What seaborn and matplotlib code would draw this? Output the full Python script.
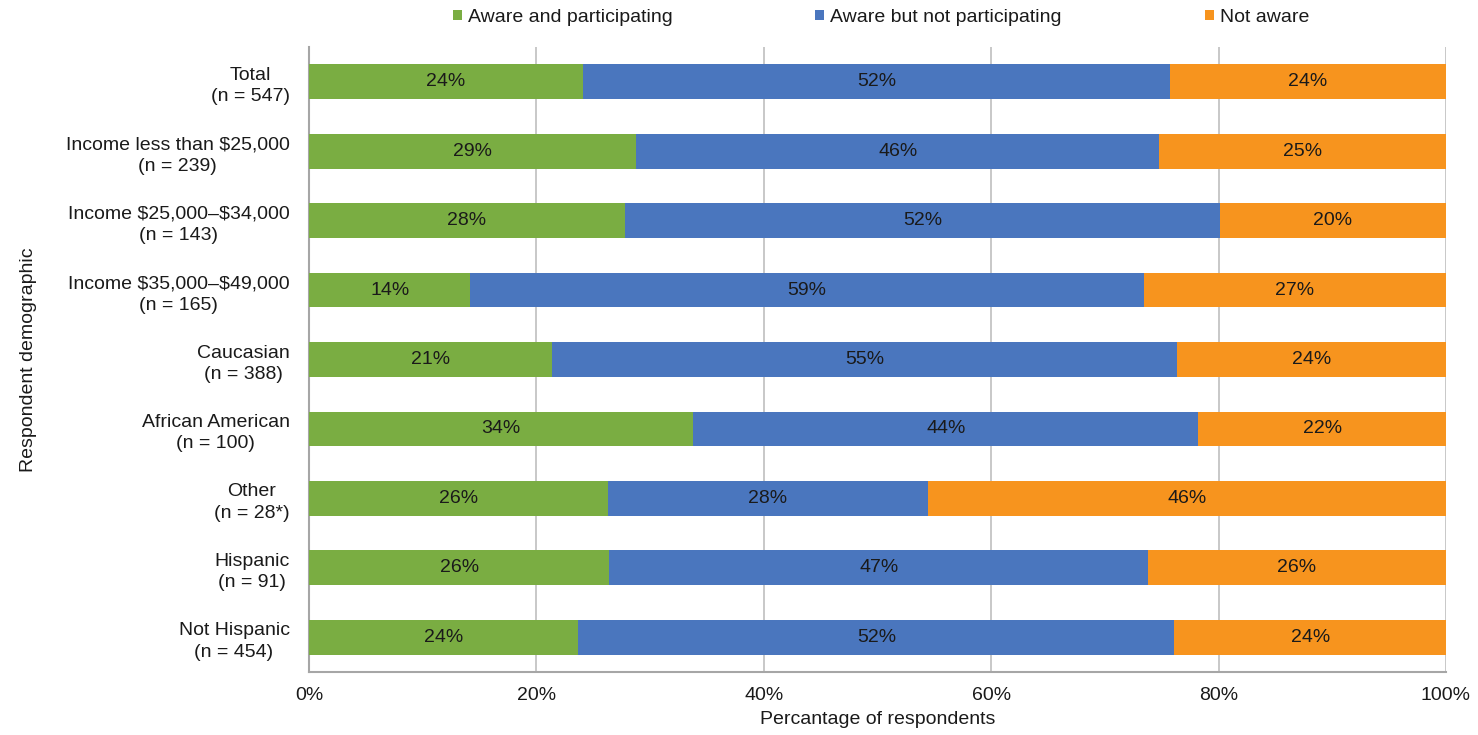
import matplotlib
matplotlib.use("Agg")
import matplotlib.pyplot as plt
import seaborn as sns
import numpy as np
import pandas as pd
from matplotlib.patches import Patch

categories = ["Total\n(n = 547)", "Income less than \\$25,000\n(n = 239)",
              "Income \\$25,000\u2013\\$34,000\n(n = 143)", "Income \\$35,000\u2013\\$49,000\n(n = 165)",
              "Caucasian\n(n = 388)", "African American\n(n = 100)", "Other\n(n = 28*)",
              "Hispanic\n(n = 91)", "Not Hispanic\n(n = 454)"]
series_names = ["Aware and participating", "Aware but not participating", "Not aware"]
aware_participating = [24.1, 28.8, 27.8, 14.2, 21.4, 33.8, 26.3, 26.4, 23.7]
aware_not_participating = [51.6, 46.0, 52.3, 59.2, 54.9, 44.4, 28.1, 47.4, 52.4]
not_aware = [24.3, 25.2, 19.9, 26.6, 23.7, 21.8, 45.6, 26.2, 23.9]
xticks = [0, 20, 40, 60, 80, 100]
xtick_labels = ["0%", "20%", "40%", "60%", "80%", "100%"]

colors = ["#7AAD42", "#4A76BE", "#F7941E"]
FS = 14
TXT = "#1a1a1a"

sns.set_theme(style="white")
plt.rcParams['font.family'] = ['Liberation Sans', 'DejaVu Sans']
plt.rcParams['text.color'] = TXT
plt.rcParams['axes.labelcolor'] = TXT
plt.rcParams['xtick.color'] = TXT
plt.rcParams['ytick.color'] = TXT

df = pd.DataFrame({"cat": categories,
                   "s1": aware_participating,
                   "s2": aware_not_participating,
                   "s3": not_aware})
df["c1"] = df["s1"]
df["c2"] = df["s1"] + df["s2"]
df["c3"] = df["c2"] + df["s3"]

fig = plt.figure(figsize=(14.78, 7.35), dpi=100)
ax = fig.add_axes([309/1478, 1 - 672/735, (1446-309)/1478, (672-47)/735])

for col, c in zip(["c3", "c2", "c1"], colors[::-1]):
    sns.barplot(data=df, y="cat", x=col, orient="h", color=c, width=0.5,
                saturation=1, ax=ax, linewidth=0, zorder=3)

for i, row in df.iterrows():
    lefts = [0, row["c1"], row["c2"]]
    vals = [row["s1"], row["s2"], row["s3"]]
    for l, v in zip(lefts, vals):
        ax.text(l + v/2, i, f"{v:.0f}%", ha="center", va="center",
                fontsize=FS, color=TXT, zorder=5)

ax.set_xlim(0, 100)
ax.set_ylim(len(categories) - 0.5, -0.5)
ax.set_xticks(xticks)
ax.set_xticklabels(xtick_labels, fontsize=FS)
ax.tick_params(axis="y", labelsize=FS, length=0, pad=14)
ax.tick_params(axis="x", length=0, pad=11)
for lab in ax.get_yticklabels():
    lab.set_horizontalalignment("right")
    lab.set_multialignment("center")
    lab.set_linespacing(1.35)
ax.xaxis.grid(True, color="#BFBFBF", linewidth=1.2, zorder=0)
ax.set_axisbelow(True)
for s in ["top", "right"]:
    ax.spines[s].set_visible(False)
for s in ["left", "bottom"]:
    ax.spines[s].set_color("#A6A6A6")
    ax.spines[s].set_linewidth(1.5)
ax.set_xlabel("Percantage of respondents", fontsize=FS, labelpad=5)
ax.set_ylabel("Respondent demographic", fontsize=FS)
ax.yaxis.set_label_coords(-0.239, 0.5)

legend_x = [453, 815, 1205]
for h_color, name, lx in zip(colors, series_names, legend_x):
    fig.legend([Patch(facecolor=h_color, edgecolor="none")], [name],
               loc="upper left", bbox_to_anchor=(lx/1478, 1 - 9/735),
               frameon=False, fontsize=FS, handlelength=0.47, handleheight=0.47,
               handletextpad=0.31, borderpad=0, borderaxespad=0)

fig.savefig("out.png", dpi=100)
